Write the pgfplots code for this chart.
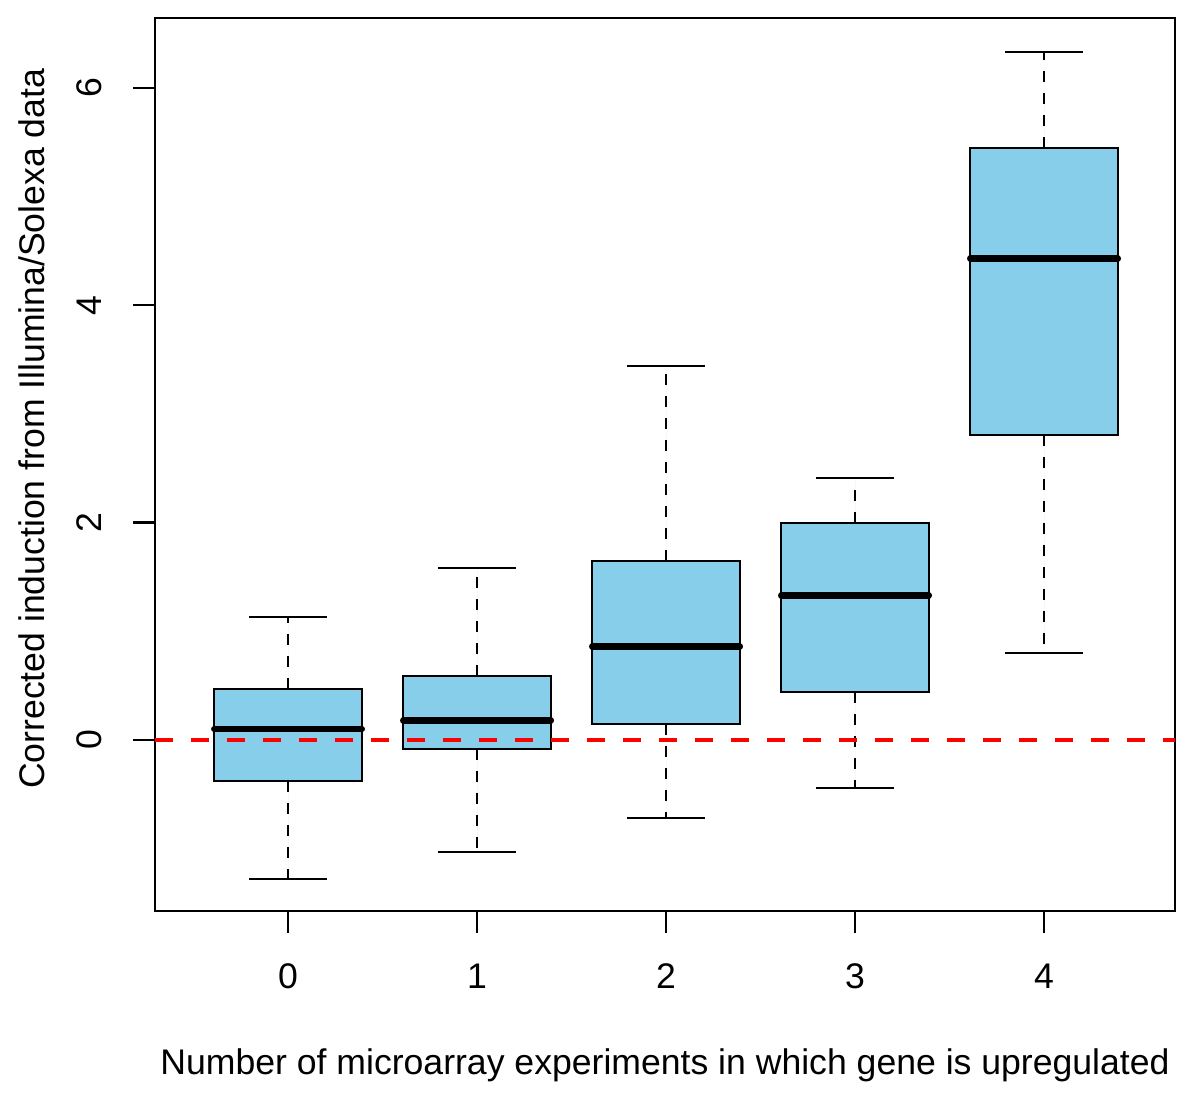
\documentclass[border=0pt]{standalone}
\usepackage{pgfplots}
\pgfplotsset{compat=1.18}
\usepgfplotslibrary{statistics}
\usepackage{fontspec}
\setmainfont{Liberation Sans}
\definecolor{skyblue}{RGB}{135,206,235}
\pgfplotsset{
  rbox/.style={
    draw=black, fill=skyblue, line width=1.1pt, solid,
    boxplot/draw direction=y,
    boxplot/box extend=0.78,
    boxplot/whisker extend=0.41,
    boxplot/every median/.style={line width=3.3pt, line cap=round},
    boxplot/draw/lower whisker/.code={%
      \draw[line width=1pt, dash pattern=on 5.5pt off 5.5pt]
        (boxplot box cs:\pgfplotsboxplotvalue{lower quartile},0.5) --
        (boxplot box cs:\pgfplotsboxplotvalue{lower whisker},0.5);
      \draw[line width=1.1pt, solid]
        (boxplot whisker cs:\pgfplotsboxplotvalue{lower whisker},0) --
        (boxplot whisker cs:\pgfplotsboxplotvalue{lower whisker},1);
    },
    boxplot/draw/upper whisker/.code={%
      \draw[line width=1pt, dash pattern=on 5.5pt off 5.5pt]
        (boxplot box cs:\pgfplotsboxplotvalue{upper quartile},0.5) --
        (boxplot box cs:\pgfplotsboxplotvalue{upper whisker},0.5);
      \draw[line width=1.1pt, solid]
        (boxplot whisker cs:\pgfplotsboxplotvalue{upper whisker},0) --
        (boxplot whisker cs:\pgfplotsboxplotvalue{upper whisker},1);
    },
  }
}
\begin{document}
\begin{tikzpicture}
\begin{axis}[
  scale only axis,
  width=510pt, height=446.5pt,
  xmin=-0.704, xmax=4.693,
  ymin=-1.574, ymax=6.644,
  xtick={0,1,2,3,4},
  ytick={0,2,4,6},
  xtick pos=lower, ytick pos=left,
  tick align=outside,
  major tick length=11pt,
  axis line style={line width=1.2pt},
  every tick/.style={black, line width=1.2pt},
  /pgf/number format/assume math mode=true,
  ticklabel style={font=\fontsize{17.8}{21}\selectfont},
  xticklabel style={anchor=north, yshift=-12pt},
  yticklabel style={rotate=90, anchor=south, yshift=12pt},
  label style={font=\fontsize{17.8}{21}\selectfont},
  xlabel={Number of microarray experiments in which gene is upregulated},
  ylabel={Corrected induction from Illumina/Solexa data},
  xlabel style={at={(axis description cs:0.5,0)}, anchor=base, yshift=-82pt},
  ylabel style={at={(axis description cs:0,0.54)}, rotate=0, anchor=base, yshift=55pt},
]
\addplot[rbox, boxplot prepared={draw position=0, lower whisker=-1.28, lower quartile=-0.38, median=0.10, upper quartile=0.47, upper whisker=1.13}] coordinates {};
\addplot[rbox, boxplot prepared={draw position=1, lower whisker=-1.03, lower quartile=-0.08, median=0.18, upper quartile=0.59, upper whisker=1.58}] coordinates {};
\addplot[rbox, boxplot prepared={draw position=2, lower whisker=-0.72, lower quartile=0.15, median=0.86, upper quartile=1.65, upper whisker=3.44}] coordinates {};
\addplot[rbox, boxplot prepared={draw position=3, lower whisker=-0.44, lower quartile=0.44, median=1.33, upper quartile=2.00, upper whisker=2.41}] coordinates {};
\addplot[rbox, boxplot prepared={draw position=4, lower whisker=0.80, lower quartile=2.81, median=4.43, upper quartile=5.45, upper whisker=6.33}] coordinates {};
\addplot[red, line width=2pt, dash pattern=on 9pt off 9pt] coordinates {(-0.704,0) (4.693,0)};
\end{axis}
\path (current axis.south west) ++(-77.5pt,-95pt) coordinate (bl);
\path (current axis.north east) ++(12.5pt,9pt) coordinate (tr);
\useasboundingbox (bl) rectangle (tr);
\end{tikzpicture}
\end{document}
